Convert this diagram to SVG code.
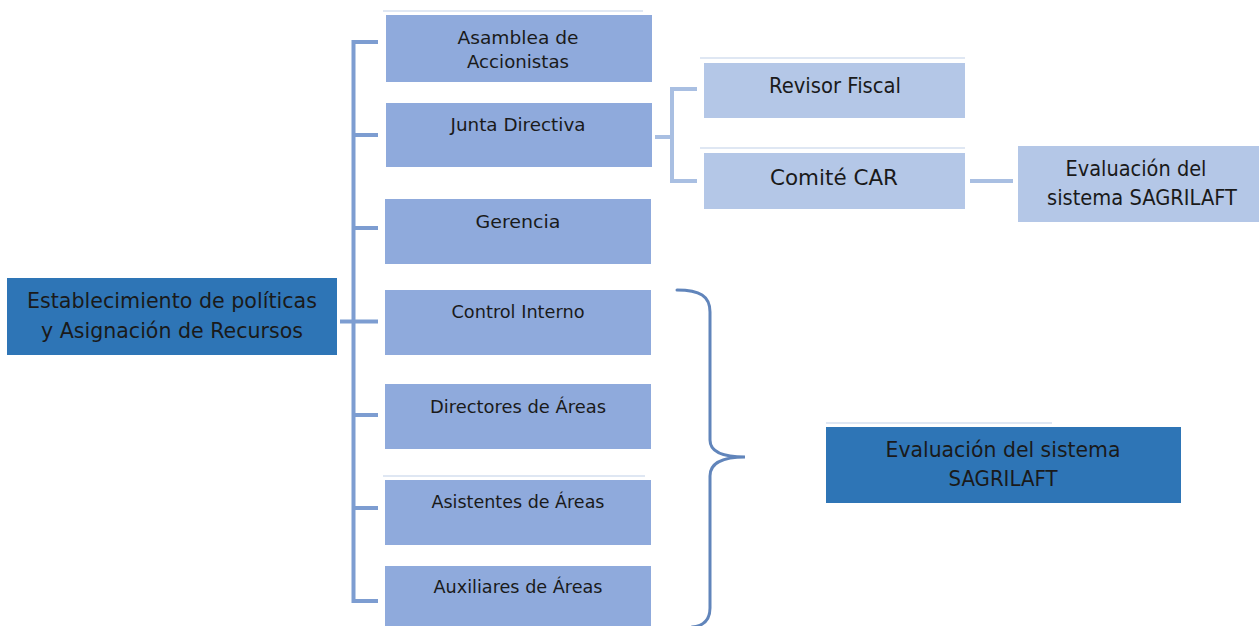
<svg xmlns="http://www.w3.org/2000/svg" width="1259" height="626" viewBox="0 0 1259 626">
<style>
.bg{fill:#ffffff}
.dark{fill:#2e75b6}
.mid{fill:#8faadc}
.light{fill:#b4c7e7}
.faint{stroke:#dfe7f3;stroke-width:2;fill:none}
.conn{stroke:#7d9dd1;stroke-width:4;fill:none;stroke-linejoin:miter}
.conn2{stroke:#a9bfe2;stroke-width:4;fill:none}
.brace{stroke:#6185bb;stroke-width:3;fill:none;stroke-linecap:round}
text{font-family:"DejaVu Sans","Liberation Sans",sans-serif;fill:#1a1a1a;text-anchor:middle}
.s17{font-size:18px}
.s20{font-size:21px}
</style>
<rect class="bg" x="0" y="0" width="1259" height="626"/>
<g id="faint-lines">
<line class="faint" x1="383" y1="11" x2="643" y2="11"/>
<line class="faint" x1="700" y1="58" x2="965" y2="58"/>
<line class="faint" x1="700" y1="148" x2="965" y2="148"/>
<line class="faint" x1="383" y1="476" x2="645" y2="476"/>
<line class="faint" x1="826" y1="423" x2="1052" y2="423"/>
</g>
<g id="connectors">
<path class="conn" d="M378 42 H353.5 V601 H378"/>
<path class="conn" d="M353.5 135 H378 M353.5 228 H378 M340 321.5 H378 M353.5 415 H378 M353.5 508 H378"/>
<path class="conn2" d="M655 137 H672 M697 89 H672 V181 H697"/>
<path class="conn2" d="M970 181 H1013"/>
<path class="brace" d="M677 290 C700 290 710 296 710 312 L710 440 C710 452 722 457 745 457 C722 457 710 463 710 476 L710 608 C710 620 704 626 692 627"/>
</g>
<g id="n-main">
<rect class="dark" x="7" y="278" width="330" height="77"/>
<text class="s20" x="172" y="308" textLength="290" lengthAdjust="spacingAndGlyphs">Establecimiento de políticas</text>
<text class="s20" x="172" y="338" textLength="262" lengthAdjust="spacingAndGlyphs">y Asignación de Recursos</text>
</g>
<g id="n-asamblea">
<rect class="mid" x="386" y="15" width="266" height="67"/>
<text class="s17" x="518" y="44" textLength="121" lengthAdjust="spacingAndGlyphs">Asamblea de</text>
<text class="s17" x="518" y="68" textLength="102" lengthAdjust="spacingAndGlyphs">Accionistas</text>
</g>
<g id="n-junta">
<rect class="mid" x="386" y="103" width="266" height="64"/>
<text class="s17" x="518" y="131" textLength="135" lengthAdjust="spacingAndGlyphs">Junta Directiva</text>
</g>
<g id="n-gerencia">
<rect class="mid" x="385" y="199" width="266" height="65"/>
<text class="s17" x="518" y="228" textLength="85" lengthAdjust="spacingAndGlyphs">Gerencia</text>
</g>
<g id="n-control">
<rect class="mid" x="385" y="290" width="266" height="65"/>
<text class="s17" x="518" y="318" textLength="133" lengthAdjust="spacingAndGlyphs">Control Interno</text>
</g>
<g id="n-directores">
<rect class="mid" x="385" y="384" width="266" height="65"/>
<text class="s17" x="518" y="413" textLength="176" lengthAdjust="spacingAndGlyphs">Directores de Áreas</text>
</g>
<g id="n-asistentes">
<rect class="mid" x="385" y="480" width="266" height="65"/>
<text class="s17" x="518" y="508" textLength="173" lengthAdjust="spacingAndGlyphs">Asistentes de Áreas</text>
</g>
<g id="n-auxiliares">
<rect class="mid" x="385" y="566" width="266" height="60"/>
<text class="s17" x="518" y="593" textLength="169" lengthAdjust="spacingAndGlyphs">Auxiliares de Áreas</text>
</g>
<g id="n-revisor">
<rect class="light" x="704" y="63" width="261" height="55"/>
<text class="s20" x="835" y="93" textLength="132" lengthAdjust="spacingAndGlyphs">Revisor Fiscal</text>
</g>
<g id="n-comite">
<rect class="light" x="704" y="153" width="261" height="56"/>
<text class="s20" x="834" y="185" textLength="128" lengthAdjust="spacingAndGlyphs">Comité CAR</text>
</g>
<g id="n-eval-small">
<rect class="light" x="1018" y="146" width="241" height="76"/>
<text class="s20" x="1136" y="176" textLength="141" lengthAdjust="spacingAndGlyphs">Evaluación del</text>
<text class="s20" x="1142" y="205" textLength="190" lengthAdjust="spacingAndGlyphs">sistema SAGRILAFT</text>
</g>
<g id="n-eval-big">
<rect class="dark" x="826" y="427" width="355" height="76"/>
<text class="s20" x="1003" y="457" textLength="235" lengthAdjust="spacingAndGlyphs">Evaluación del sistema</text>
<text class="s20" x="1003" y="486" textLength="109" lengthAdjust="spacingAndGlyphs">SAGRILAFT</text>
</g>
</svg>
